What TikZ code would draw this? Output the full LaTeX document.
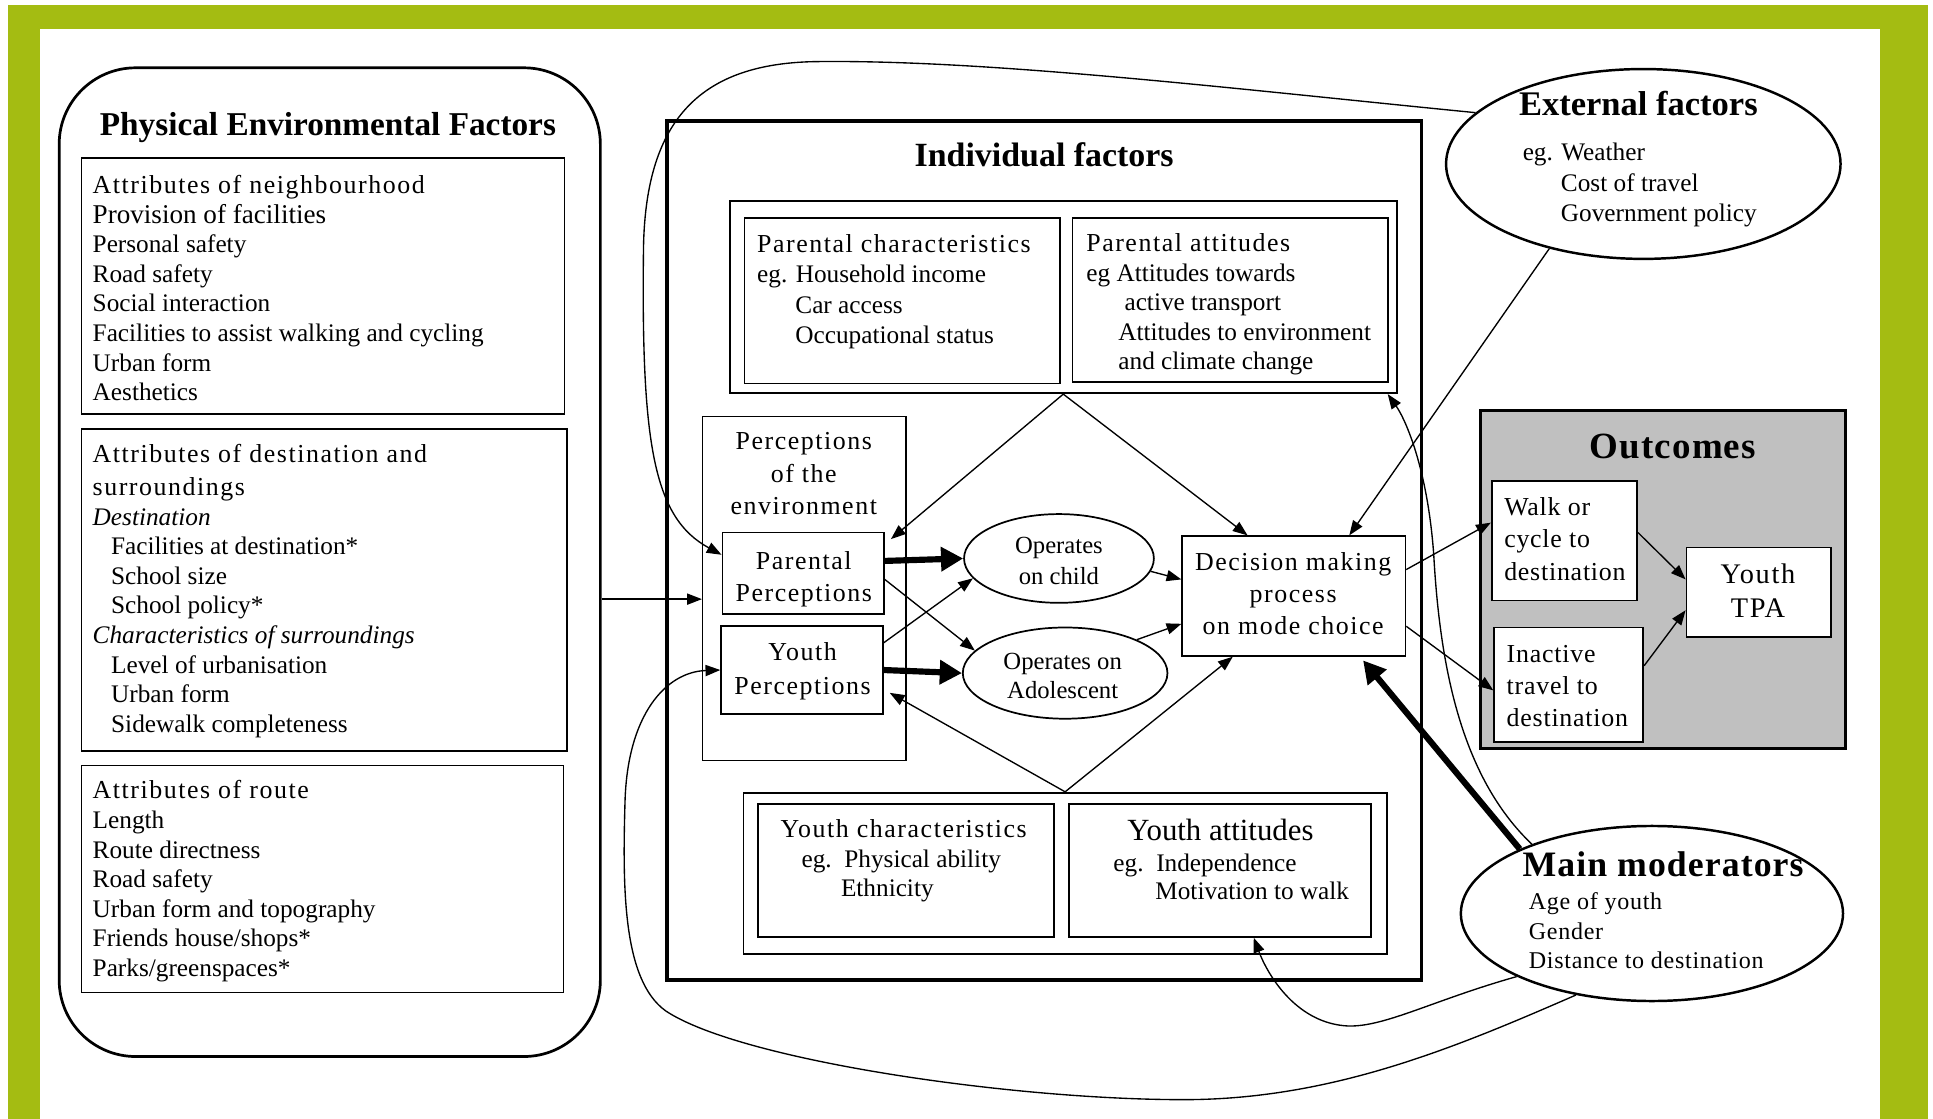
\documentclass[tikz,border=0pt]{standalone}
\usepackage{fontspec}
\setmainfont{Liberation Serif}
\newfontfamily\spacedfont[LetterSpace=6]{Liberation Serif}
\newfontfamily\widefont[LetterSpace=3]{Liberation Serif}
\usetikzlibrary{arrows.meta,shapes.geometric,fit}
\newcommand\fsz[2]{\fontsize{#1}{#2}\selectfont}
\definecolor{framegreen}{RGB}{164,188,18}
\definecolor{outgray}{RGB}{192,192,192}
\begin{document}
\begin{tikzpicture}[x=1pt,y=-1pt,
  box/.style={draw, line width=1.4pt, inner sep=0pt},
  txt/.style={inner sep=0pt, align=left},
  ctxt/.style={inner sep=0pt, align=center},
  arr/.style={-{Triangle[length=12pt,width=9pt]}, line width=1.1pt},
  thickarr/.style={-{Triangle[length=18pt,width=19pt]}, line width=5pt},
  ell/.style={draw, ellipse, inner sep=0pt, line width=1.4pt},
]
\useasboundingbox (0,0) rectangle (1568,907.7);
% green frame
\fill[framegreen] (6.5,4) rectangle (1564,23.5);
\fill[framegreen] (6.5,4) rectangle (32.5,907.7);
\fill[framegreen] (1525,4) rectangle (1564,907.7);

% ---------- Physical environmental factors ----------
\node[box, line width=2.2pt, rounded corners=62pt, fit={(48,55)(487,857)}] (phys) {};
\node[ctxt, anchor=base, font=\fsz{27}{30}\bfseries] (tphys) at (266,110) {Physical Environmental Factors};
\node[box, fit={(66,128)(458,336)}] (nbh) {};
\node[txt, anchor=base west, font=\fsz{20.5}{24}] (tnbh) at (75,325)
  {{\spacedfont\fsz{21}{24}Attributes of neighbourhood}\\
   {\fsz{22}{24}Provision of facilities}\\
   Personal safety\\Road safety\\Social interaction\\
   Facilities to assist walking and cycling\\Urban form\\Aesthetics};
\node[box, fit={(66,348)(460,609)}] (dest) {};
\node[txt, anchor=base west, font=\fsz{20.5}{24}] (tdest) at (75,594)
  {{\spacedfont\fsz{21}{24}Attributes of destination and}\\[3pt]
   {\spacedfont\fsz{21}{24}surroundings}\\
   \textit{Destination}\\
   \hspace*{15pt}Facilities at destination*\\
   \hspace*{15pt}School size\\
   \hspace*{15pt}School policy*\\
   \textit{Characteristics of surroundings}\\
   \hspace*{15pt}Level of urbanisation\\
   \hspace*{15pt}Urban form\\
   \hspace*{15pt}Sidewalk completeness};
\node[box, fit={(66,621)(457,805)}] (route) {};
\node[txt, anchor=base west, font=\fsz{20.5}{24}] (troute) at (75,792)
  {{\spacedfont\fsz{21}{24}Attributes of route}\\
   Length\\Route directness\\Road safety\\Urban form and topography\\
   Friends house/shops*\\Parks/greenspaces*};

% ---------- Individual factors ----------
\node[box, line width=2.8pt, fit={(541,98)(1153,795)}] (indiv) {};
\node[ctxt, anchor=base, font=\fsz{27.5}{30}\bfseries] (tindiv) at (847,135) {Individual factors};

\node[box, fit={(592,163)(1133,319)}] (parout) {};
\node[box, fit={(604,177)(860,311)}] (parchar) {};
\node[box, fit={(870,177)(1126,310)}] (paratt) {};
\node[txt, anchor=base west, font=\fsz{20.5}{24.5}] (tparchar) at (614,278.5)
  {{\spacedfont\fsz{21}{24}Parental characteristics}\\
   eg. Household income\\
   \hspace*{31pt}Car access\\
   \hspace*{31pt}Occupational status};
\node[txt, anchor=base west, font=\fsz{20.5}{24}] (tparatt) at (881,300)
  {{\spacedfont\fsz{21}{24}Parental attitudes}\\
   eg Attitudes towards\\
   \hspace*{31pt}active transport\\
   \hspace*{26pt}Attitudes to environment\\
   \hspace*{26pt}and climate change};

\node[box, line width=1.2pt, fit={(570,338)(735,617)}] (perc) {};
\node[ctxt, anchor=base, font=\spacedfont\fsz{21}{26}] (tperc) at (652,417) {Perceptions\\of the\\environment};
\node[box, fit={(586,432)(717,498)}] (pperc) {};
\node[ctxt, anchor=base, font=\spacedfont\fsz{21}{26}] (tpperc) at (652,488) {Parental\\Perceptions};
\node[box, fit={(585,508)(716,579)}] (yperc) {};
\node[ctxt, anchor=base, font=\spacedfont\fsz{21}{27}] (typerc) at (651,563) {Youth\\Perceptions};

\node[ell, minimum width=154pt, minimum height=72pt] (opchild) at (859,453) {};
\node[ctxt, anchor=base, font=\fsz{20}{25}] (topchild) at (859,474) {Operates\\on child};
\node[ell, minimum width=166pt, minimum height=74pt] (opadol) at (864,546) {};
\node[ctxt, anchor=base, font=\fsz{20}{24}] (topadol) at (862,567) {Operates on\\Adolescent};

\node[box, fit={(959,435)(1140,532)}] (decision) {};
\node[ctxt, anchor=base, font=\spacedfont\fsz{21}{26}] (tdecision) at (1049,515) {Decision making\\process\\on mode choice};

\node[box, fit={(603,643)(1125,774)}] (youthout) {};
\node[box, fit={(615,652)(855,760)}] (ychar) {};
\node[box, fit={(867,652)(1112,760)}] (yatt) {};
\node[ctxt, anchor=base, font=\spacedfont\fsz{21}{24}] (tychar) at (733,679) {Youth characteristics};
\node[txt, anchor=base west, font=\fsz{20.5}{23}] (tychar2) at (650,727) {eg.\ \ Physical ability\\\hspace*{32pt}Ethnicity};
\node[ctxt, anchor=base, font=\fsz{25}{28}] (tyatt) at (990,682) {Youth attitudes};
\node[txt, anchor=base west, font=\fsz{20.5}{23}] (tyatt2) at (903,730) {eg.\ \ Independence\\\hspace*{34pt}Motivation to walk};

% ---------- External factors ----------
\node[ell, line width=2pt, minimum width=320pt, minimum height=154pt] (ext) at (1333,133) {};
\node[ctxt, anchor=base, font=\fsz{28}{30}\bfseries] (text) at (1329,94) {External factors};
\node[txt, anchor=base west, font=\fsz{20.5}{25}] (text2) at (1235,180)
  {eg. Weather\\\hspace*{31pt}Cost of travel\\\hspace*{31pt}Government policy};

% ---------- Outcomes ----------
\node[box, line width=2.8pt, fill=outgray, fit={(1201,333)(1497,607)}] (outc) {};
\node[ctxt, anchor=base, font=\widefont\fsz{30}{32}\bfseries] (toutc) at (1357,372) {Outcomes};
\node[box, fill=white, fit={(1210,390)(1328,487)}] (walk) {};
\node[txt, anchor=base west, font=\widefont\fsz{21}{26.5}] (twalk) at (1220,471) {Walk or\\cycle to\\destination};
\node[box, fill=white, fit={(1212,509)(1333,602)}] (inact) {};
\node[txt, anchor=base west, font=\widefont\fsz{21}{26}] (tinact) at (1222,589) {Inactive\\travel to\\destination};
\node[box, fill=white, fit={(1368,444)(1485,517)}] (tpa) {};
\node[ctxt, anchor=base, font=\spacedfont\fsz{23}{28}] (ttpa) at (1426,501) {Youth\\TPA};

% ---------- Main moderators ----------
\node[ell, line width=2pt, fill=white, minimum width=310pt, minimum height=142pt] (mod) at (1340,741) {};
\node[ctxt, anchor=base, font=\widefont\fsz{29}{31}\bfseries] (tmod) at (1349,711) {Main moderators};
\node[txt, anchor=base west, font=\widefont\fsz{19.5}{24}] (tmod2) at (1240,786)
  {Age of youth\\Gender\\Distance to destination};

% ---------- Connectors ----------
\coordinate (pa) at ([yshift=-30pt]phys.east);
\draw[arr] (pa) -- (pa -| perc.west);

\draw[thickarr] ([yshift=10pt]pperc.east) -- (opchild.west);
\draw[thickarr] (yperc.east) -- (opadol.west);
\draw[arr] ([yshift=-5pt]pperc.east) -- (opadol.166);
\draw[arr] ([yshift=22pt]yperc.east) -- (opchild.193);
\draw[arr] (opchild.-8) -- ([yshift=13.5pt]decision.west);
\draw[arr] (opadol.25) -- ([yshift=-22.5pt]decision.west);

\draw[arr] (parout.south) -- ([xshift=5pt,yshift=-6pt]pperc.north east);
\draw[arr] (parout.south) -- ([xshift=-37.5pt]decision.north);
\draw[arr] (youthout.north) -- ([xshift=5pt,yshift=-18.5pt]yperc.east);
\draw[arr] (youthout.north) -- ([xshift=-49.5pt]decision.south);

\draw[arr] ([yshift=21.5pt]decision.east) -- ([yshift=14.5pt]walk.west);
\draw[arr] ([yshift=-24.5pt]decision.east) -- ([yshift=-4.5pt]inact.west);
\draw[arr] ([yshift=6.5pt]walk.east) -- ([yshift=10.5pt]tpa.west);
\draw[arr] ([yshift=15.5pt]inact.east) -- ([yshift=-14.5pt]tpa.west);

\draw[arr] (ext.222) -- ([xshift=45pt]decision.north);
\draw[arr] (ext.163) .. controls (1000,72) and (800,48) .. (660,50)
  .. controls (570,52) and (524,95) .. (522,200)
  .. controls (520,360) and (530,420) .. ([yshift=15pt]pperc.west);

\draw[thickarr] (mod.154) -- ([xshift=-35pt,yshift=-3pt]decision.south east);
\draw[arr] (mod.150) .. controls (1185,630) and (1168,540) .. (1163,450)
  .. controls (1158,380) and (1140,340) .. ([xshift=-8pt]parout.south east);
\draw[arr] (mod.205) .. controls (1160,812) and (1120,835) .. (1090,832)
  .. controls (1050,828) and (1028,790) .. ([xshift=27.5pt]yatt.south);
\draw[arr] (mod.227) .. controls (1180,850) and (1080,892) .. (960,892)
  .. controls (820,892) and (600,860) .. (540,820)
  .. controls (505,795) and (505,720) .. (507,650)
  .. controls (509,580) and (540,545) .. (yperc.west);
\end{tikzpicture}
\end{document}
